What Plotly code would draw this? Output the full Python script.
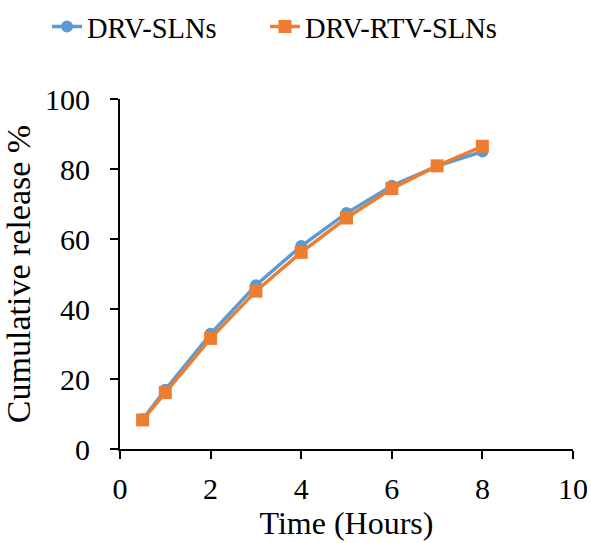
import plotly.graph_objects as go

# Release profile data (time in hours, cumulative release %)
time_drv = [0.5, 1, 2, 3, 4, 5, 6, 7, 8]
release_drv = [8.5, 16.9, 32.9, 46.8, 58.0, 67.4, 75.2, 80.8, 85.0]

time_drv_rtv = [0.5, 1, 2, 3, 4, 5, 6, 7, 8]
release_drv_rtv = [8.3, 16.1, 31.6, 45.1, 56.2, 66.0, 74.4, 80.9, 86.5]

x_ticks = [0, 2, 4, 6, 8, 10]
y_ticks = [0, 20, 40, 60, 80, 100]

BLUE = "#5B9BD5"
ORANGE = "#ED7D31"
FONT = "Liberation Serif"

fig = go.Figure()
fig.add_trace(go.Scatter(
    x=time_drv, y=release_drv, name="DRV-SLNs", mode="lines+markers",
    line=dict(color=BLUE, width=3.5),
    marker=dict(symbol="circle", size=12, color=BLUE),
    legend="legend",
))
fig.add_trace(go.Scatter(
    x=time_drv_rtv, y=release_drv_rtv, name="DRV-RTV-SLNs", mode="lines+markers",
    line=dict(color=ORANGE, width=3.5),
    marker=dict(symbol="square", size=13, color=ORANGE),
    legend="legend2",
))

tick_font = dict(family=FONT, size=30, color="black")
legend_font = dict(family=FONT, size=28.5, color="black")
legend_common = dict(orientation="h", xref="container", yref="container",
                     y=1 - 27 / 543, xanchor="left", yanchor="middle",
                     font=legend_font, bgcolor="rgba(0,0,0,0)")

fig.update_layout(
    width=591, height=543,
    margin=dict(l=120, r=18, t=99, b=94),
    paper_bgcolor="white", plot_bgcolor="white",
    font=dict(family=FONT, size=28, color="black"),
    xaxis=dict(range=[0, 10], tickvals=x_ticks, ticklabelstandoff=4,
               showgrid=False, zeroline=False, showline=True, linecolor="black", linewidth=2,
               ticks="outside", ticklen=8, tickwidth=2, tickcolor="black", automargin=False,
               tickfont=tick_font,
               title=dict(text="Time (Hours)", font=dict(family=FONT, size=32, color="black"),
                          standoff=4)),
    yaxis=dict(range=[0, 100], tickvals=y_ticks, ticklabelstandoff=14,
               showgrid=False, zeroline=False, showline=True, linecolor="black", linewidth=2,
               ticks="outside", ticklen=8, tickwidth=2, tickcolor="black", automargin=False,
               tickfont=tick_font,
               title=dict(text="Cumulative release %", font=dict(family=FONT, size=34, color="black"),
                          standoff=6)),
    legend=dict(x=47 / 591, **legend_common),
    legend2=dict(x=265 / 591, **legend_common),
    showlegend=True,
)

fig.write_html("out.html")
